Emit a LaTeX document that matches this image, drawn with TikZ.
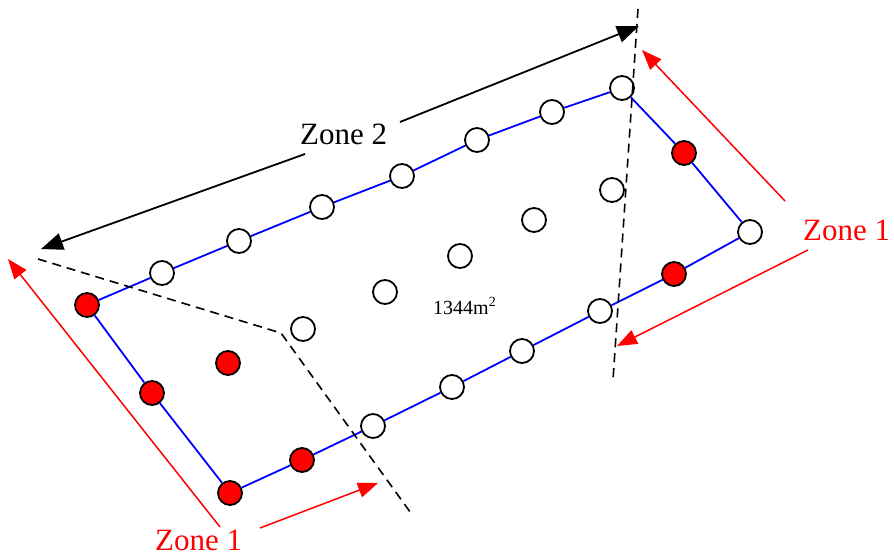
\documentclass[tikz,border=0pt]{standalone}
\usepackage{fontspec}
\setmainfont{Liberation Serif}
\usetikzlibrary{arrows.meta}
\begin{document}
\begin{tikzpicture}[x=1pt,y=-1pt,
  pt/.style={circle,draw=black,line width=1.8pt,minimum size=24pt,inner sep=0pt},
  wpt/.style={pt,fill=white},
  rpt/.style={pt,fill=red},
  edge/.style={blue,line width=1.8pt},
  cut/.style={black,line width=1.6pt,dash pattern=on 9pt off 6pt},
  zarrow/.style={black,line width=1.8pt,-{Triangle[length=22pt,width=17pt]}},
  rarrow/.style={red,line width=1.5pt,-{Triangle[length=20pt,width=15pt]}},
  bigl/.style={font=\fontsize{31}{36}\selectfont,inner sep=0pt,anchor=base west},
  arealbl/.style={font=\fontsize{20}{24}\selectfont,inner sep=0pt,anchor=base west}]
\useasboundingbox (0,0) rectangle (894,554);
% boundary points
\node[rpt] (a1) at (87,305) {};
\node[wpt] (a2) at (162,273) {};
\node[wpt] (a3) at (239,241) {};
\node[wpt] (a4) at (322,207) {};
\node[wpt] (a5) at (402,176) {};
\node[wpt] (a6) at (477,140) {};
\node[wpt] (a7) at (552,112) {};
\node[wpt] (a8) at (622,88) {};
\node[rpt] (b1) at (684,153) {};
\node[wpt] (b2) at (750,232) {};
\node[rpt] (c1) at (674,274) {};
\node[wpt] (c2) at (600,311) {};
\node[wpt] (c3) at (522,351) {};
\node[wpt] (c4) at (452,387) {};
\node[wpt] (c5) at (373,426) {};
\node[rpt] (c6) at (302,460) {};
\node[rpt] (c7) at (230,493) {};
\node[rpt] (d1) at (152,393) {};
% interior points
\node[rpt] (i1) at (228,363) {};
\node[wpt] (i2) at (303,329) {};
\node[wpt] (i3) at (385,292) {};
\node[wpt] (i4) at (460,256) {};
\node[wpt] (i5) at (534,220) {};
\node[wpt] (i6) at (612,190) {};
% boundary edges
\draw[edge] (a1) -- (a2) -- (a3) -- (a4) -- (a5) -- (a6) -- (a7) -- (a8)
  -- (b1) -- (b2) -- (c1) -- (c2) -- (c3) -- (c4) -- (c5) -- (c6) -- (c7)
  -- (d1) -- (a1);
% cut lines
\coordinate (k1) at (38,259);
\coordinate (k2) at (281,333);
\coordinate (k3) at (413,516);
\coordinate (m1) at (638,9);
\coordinate (m2) at (613,380);
\draw[cut] (k1) -- (k2) -- (k3);
\draw[cut] (m1) -- (m2);
% labels
\node[bigl] (z2) at (300,144) {Zone 2};
\node[bigl,red] (z1r) at (803,240) {Zone 1};
\node[bigl,red] (z1b) at (155,550) {Zone 1};
\node[arealbl] (area) at (433,314) {1344m\textsuperscript{2}};
% zone 2 arrows
\coordinate (zs1) at (305,154);
\coordinate (zt1) at (41,249);
\coordinate (zs2) at (400,122);
\coordinate (zt2) at (639,26);
\draw[zarrow] (zs1) -- (zt1);
\draw[zarrow] (zs2) -- (zt2);
% zone 1 arrows
\coordinate (rs1) at (220,527);
\coordinate (rt1) at (8,259);
\coordinate (rs2) at (260,528);
\coordinate (rt2) at (378,483);
\coordinate (rs3) at (785,201);
\coordinate (rt3) at (642,50);
\coordinate (rs4) at (808,250);
\coordinate (rt4) at (617,346);
\draw[rarrow] (rs1) -- (rt1);
\draw[rarrow] (rs2) -- (rt2);
\draw[rarrow] (rs3) -- (rt3);
\draw[rarrow] (rs4) -- (rt4);
\end{tikzpicture}
\end{document}
